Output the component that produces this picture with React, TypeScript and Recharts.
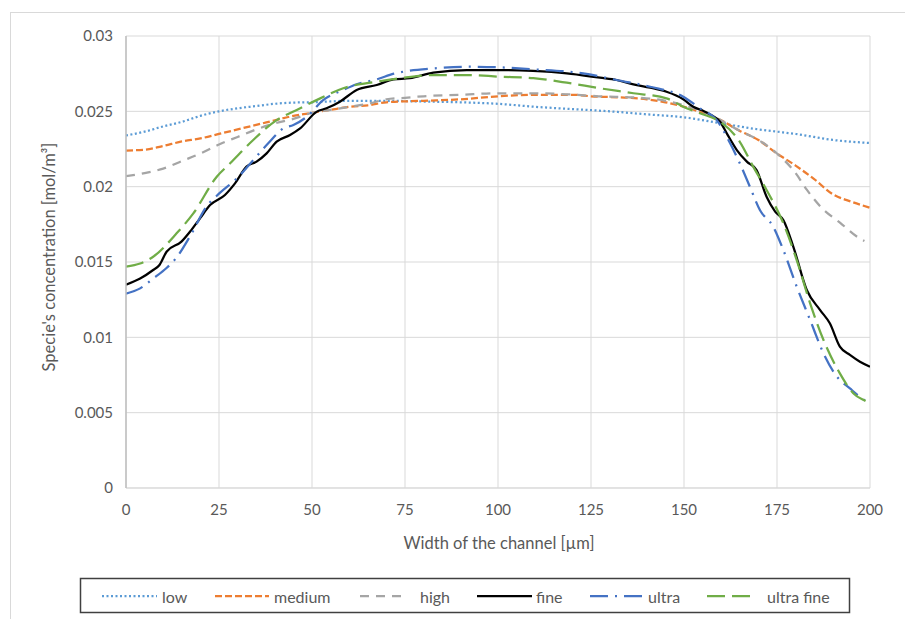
import React from 'react';
import { LineChart, Line, XAxis, YAxis, CartesianGrid } from 'recharts';

const xTicks = [0, 25, 50, 75, 100, 125, 150, 175, 200];
const yTicks = [0, 0.005, 0.01, 0.015, 0.02, 0.025, 0.03];

const lowPts: [number, number][] = [
  [0, 0.0234], [5, 0.02365], [10, 0.024], [15, 0.0243], [20, 0.0247], [25, 0.025], [30, 0.0252],
  [35, 0.02535], [40, 0.0255], [45, 0.02558], [50, 0.0256], [60, 0.0257], [70, 0.0257], [80, 0.02565],
  [90, 0.0256], [100, 0.0255], [110, 0.0253], [120, 0.02515], [130, 0.025], [140, 0.0248], [150, 0.0246],
  [160, 0.0242], [170, 0.0238], [175, 0.02365], [180, 0.0235], [190, 0.0231], [200, 0.0229],
];

const mediumPts: [number, number][] = [
  [0, 0.0224], [5, 0.02245], [10, 0.0227], [15, 0.023], [20, 0.0232], [25, 0.0235], [30, 0.0238],
  [35, 0.0241], [40, 0.0244], [45, 0.0247], [50, 0.0249], [55, 0.0251], [60, 0.0253], [65, 0.0254],
  [70, 0.0256], [80, 0.0257], [90, 0.0258], [100, 0.026], [110, 0.0261], [120, 0.0261], [125, 0.026],
  [135, 0.0259], [140, 0.0258], [145, 0.0256], [150, 0.0253], [155, 0.0249], [160, 0.0244], [165, 0.0237],
  [170, 0.0231], [175, 0.0222], [180, 0.0214], [185, 0.0205], [190, 0.0195], [195, 0.019], [200, 0.0186],
];

const highPts: [number, number][] = [
  [0, 0.0207], [5, 0.0209], [10, 0.0212], [15, 0.0217], [20, 0.0222], [25, 0.0228], [30, 0.0233],
  [35, 0.0238], [40, 0.0242], [45, 0.0245], [50, 0.0249], [55, 0.0251], [60, 0.0253], [65, 0.0255],
  [70, 0.0258], [75, 0.0259], [80, 0.026], [90, 0.0261], [100, 0.0262], [110, 0.0262], [117, 0.02615],
  [127, 0.026], [138, 0.0259], [145, 0.0257], [150, 0.0254], [155, 0.025], [160, 0.0244], [165, 0.0237],
  [170, 0.0231], [175, 0.0222], [180, 0.0209], [183, 0.0198], [187, 0.0186], [192, 0.0176], [197, 0.0166],
  [198.5, 0.0164],
];

const finePts: [number, number][] = [
  [0, 0.0135], [3.8, 0.0139], [7.3, 0.01447], [9, 0.0148], [10.9, 0.01568], [14.9, 0.01635], [17.5, 0.0171],
  [19.9, 0.0179], [22.6, 0.01878], [26.6, 0.01945], [29.3, 0.02022], [32.4, 0.02133], [35.1, 0.02166],
  [37.8, 0.02221], [40.5, 0.02299], [44.1, 0.02343], [46.8, 0.02387], [51.3, 0.02498], [53.9, 0.0252],
  [57.5, 0.02564], [62, 0.02642], [67.4, 0.02675], [71.9, 0.02712], [76.3, 0.0272], [82.6, 0.02757],
  [91.6, 0.02774], [100.5, 0.02774], [109.4, 0.02768], [118.5, 0.02752], [127.4, 0.02723], [131.9, 0.02708],
  [136.4, 0.02679], [140.9, 0.02657], [145.3, 0.0263], [149.8, 0.0258], [152.5, 0.0253], [155, 0.02505],
  [157, 0.0248], [159.7, 0.02431], [161.5, 0.02354], [164.2, 0.02243], [166.9, 0.02166], [169.5, 0.0211],
  [172.2, 0.01933], [174.5, 0.01834], [176.7, 0.01779], [179.4, 0.01601], [183, 0.01314], [186.6, 0.01181],
  [189.2, 0.01093], [191.9, 0.00938], [194.6, 0.00883], [197.3, 0.00838], [200, 0.00805],
];

const ultraPts: [number, number][] = [
  [0, 0.0129], [3.8, 0.01325], [7.3, 0.0139], [10.9, 0.0146], [13.6, 0.0153], [17.2, 0.0167], [21.7, 0.0187],
  [25.3, 0.0196], [29.8, 0.02055], [33.3, 0.0215], [38.3, 0.0229], [42.3, 0.02387], [45, 0.02409],
  [48.6, 0.02464], [53, 0.02575], [58.4, 0.02642], [62, 0.0268], [67.4, 0.02712], [72, 0.0275], [76.3, 0.0277],
  [82.6, 0.02785], [91.6, 0.02796], [100.5, 0.02792], [109.5, 0.02779], [122.9, 0.02752], [131.9, 0.02708],
  [140.9, 0.02663], [149.8, 0.02597], [154.3, 0.0252], [158.8, 0.02442], [162.4, 0.02288], [165, 0.02155],
  [167.7, 0.02], [170.4, 0.01845], [174, 0.01734], [176.7, 0.0158], [180.3, 0.01336], [183.9, 0.01115],
  [187.5, 0.00894], [191.1, 0.00739], [194.6, 0.00661], [199.1, 0.00573], [200, 0.0056],
];

const ultraFinePts: [number, number][] = [
  [0, 0.0147], [3.8, 0.0149], [7.3, 0.01535], [13.6, 0.0169], [18.1, 0.01823], [24.4, 0.02066], [28, 0.02155],
  [34.2, 0.0231], [40.5, 0.02442], [45.9, 0.02509], [52.2, 0.02586], [58.4, 0.02653], [67.4, 0.02697],
  [73.7, 0.0272], [82.6, 0.02741], [91.6, 0.02741], [100.5, 0.0273], [109.5, 0.0272], [118.5, 0.0269],
  [127.4, 0.02653], [136.4, 0.0262], [145.3, 0.02586], [149.8, 0.02531], [154.3, 0.02487], [159.7, 0.02431],
  [165, 0.02298], [168.6, 0.02133], [172.2, 0.01978], [176.7, 0.01757], [180.3, 0.01513], [183.9, 0.01226],
  [187.5, 0.00982], [191.9, 0.00761], [195.5, 0.00629], [199.1, 0.00573], [200, 0.0056],
];

const seriesNames = ['low', 'medium', 'high', 'fine', 'ultra', 'ultra fine'];

const toData = (pts: [number, number][]) => pts.map(([x, c]) => ({ x, c }));

const series = [
  { name: seriesNames[0], pts: lowPts, color: '#5B9BD5', dash: '2 2.5', w: 2.25 },
  { name: seriesNames[1], pts: mediumPts, color: '#ED7D31', dash: '7 3', w: 2.25 },
  { name: seriesNames[2], pts: highPts, color: '#A5A5A5', dash: '9 7', w: 2.25 },
  { name: seriesNames[3], pts: finePts, color: '#000000', dash: undefined, w: 2.25 },
  { name: seriesNames[4], pts: ultraPts, color: '#4472C4', dash: '18 7 2 7', w: 2.25 },
  { name: seriesNames[5], pts: ultraFinePts, color: '#70AD47', dash: '18 7', w: 2.25 },
];

const legendLayout = [
  { x1: 102, x2: 157, tx: 162 },
  { x1: 215, x2: 269, tx: 274 },
  { x1: 360, x2: 407, tx: 420 },
  { x1: 477, x2: 532, tx: 536 },
  { x1: 590, x2: 645, tx: 648 },
  { x1: 707, x2: 757, tx: 767 },
];

const FONT = 'Lato, "Open Sans", sans-serif';
const TEXT = '#595959';

export default function App() {
  return (
    <div style={{ position: 'absolute', left: 0, top: 0, width: 905, height: 619, background: '#fff', fontFamily: FONT }}>
      <LineChart
        width={905}
        height={619}
        margin={{ top: 36, right: 35, bottom: 91, left: 66 }}
        style={{ position: 'absolute', left: 0, top: 0 }}
      >
        <CartesianGrid stroke="#D9D9D9" strokeWidth={1} />
        <XAxis
          type="number"
          dataKey="x"
          domain={[0, 200]}
          ticks={xTicks}
          allowDataOverflow
          tickLine={false}
          tickSize={0}
          tickMargin={16}
          axisLine={{ stroke: '#D9D9D9' }}
          tick={{ fill: TEXT, fontSize: 15, fontFamily: FONT }}
          height={40}
        />
        <YAxis
          type="number"
          domain={[0, 0.03]}
          ticks={yTicks}
          allowDataOverflow
          tickLine={false}
          tickSize={0}
          tickMargin={13}
          width={60}
          axisLine={{ stroke: '#BFBFBF', strokeWidth: 1.5 }}
          tick={{ fill: TEXT, fontSize: 15, fontFamily: FONT }}
        />
        {series.map((s) => (
          <Line
            key={s.name}
            data={toData(s.pts)}
            dataKey="c"
            name={s.name}
            type="monotone"
            stroke={s.color}
            strokeWidth={s.w}
            strokeDasharray={s.dash}
            dot={false}
            activeDot={false}
            isAnimationActive={false}
          />
        ))}
      </LineChart>
      <svg
        width={905}
        height={619}
        style={{ position: 'absolute', left: 0, top: 0, pointerEvents: 'none' }}
      >
        <rect x={10.5} y={12.5} width={1200} height={1200} fill="none" stroke="#D9D9D9" strokeWidth={1} />
        <text
          transform="translate(49,257) rotate(-90)"
          textAnchor="middle"
          dominantBaseline="central"
          fill={TEXT}
          fontSize={16.5}
          fontFamily={FONT}
        >
          Specie's concentration [mol/m³]
        </text>
        <text x={499} y={543} textAnchor="middle" dominantBaseline="central" fill={TEXT} fontSize={16.5} fontFamily={FONT}>
          Width of the channel [µm]
        </text>
        <rect x={80.5} y={578.5} width={769} height={34} fill="#fff" stroke="#404040" strokeWidth={1.5} />
        {series.map((s, i) => (
          <g key={s.name}>
            <line
              x1={legendLayout[i].x1}
              x2={legendLayout[i].x2}
              y1={596}
              y2={596}
              stroke={s.color}
              strokeWidth={s.w}
              strokeDasharray={s.dash}
            />
            <text
              x={legendLayout[i].tx}
              y={596}
              dominantBaseline="central"
              fill={TEXT}
              fontSize={16}
              fontFamily={FONT}
            >
              {s.name}
            </text>
          </g>
        ))}
      </svg>
    </div>
  );
}
